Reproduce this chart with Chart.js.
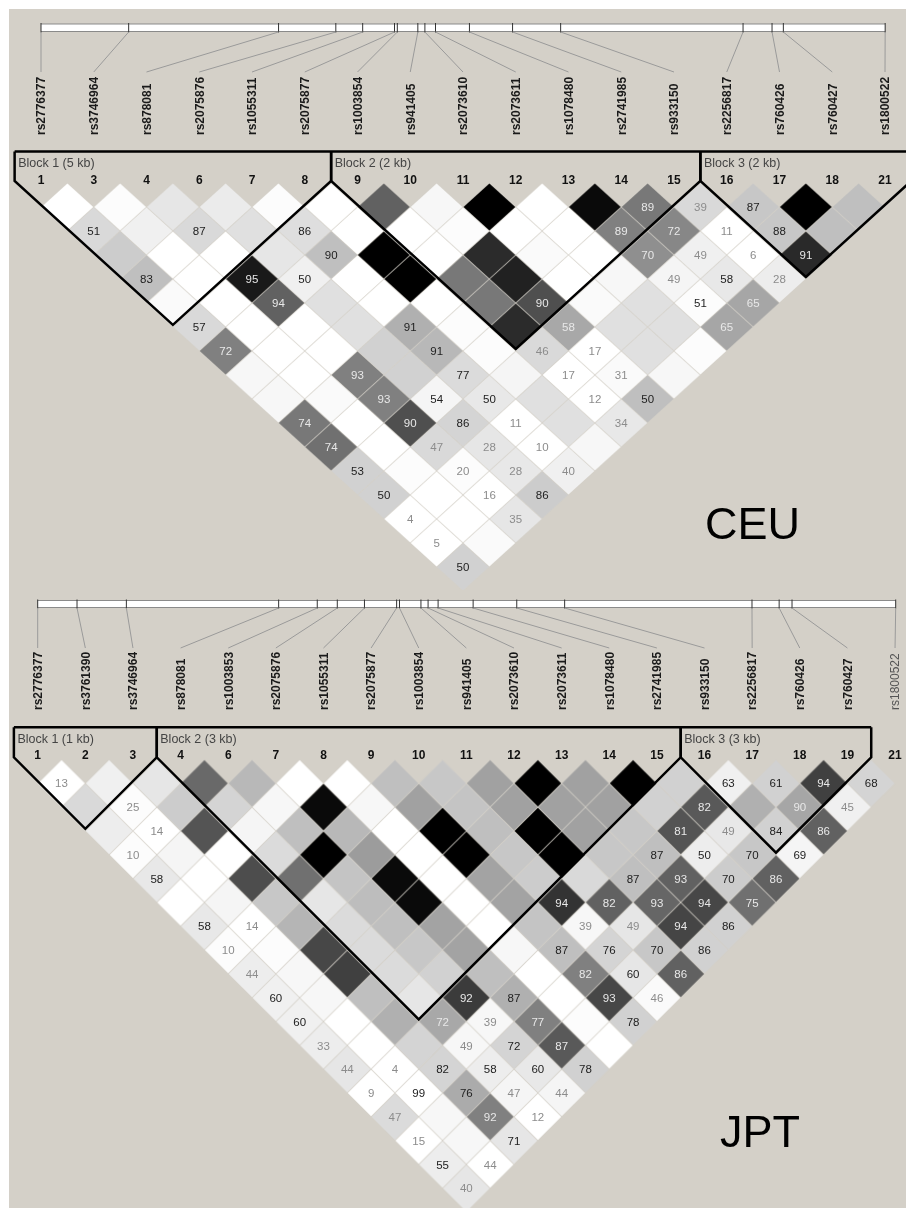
<!DOCTYPE html>
<html>
<head>
<meta charset="utf-8">
<title>LD plots CEU / JPT</title>
<script src="https://cdn.jsdelivr.net/npm/chart.js@4/dist/chart.umd.min.js"></script>
<style>
    html, body { margin: 0; padding: 0; background: #fff; }
    #plate { position: absolute; left: 9px; top: 9px; width: 897px; height: 1199px; background: #d4d0c8; }
    canvas { position: absolute; left: 0; }
    #ceuChart { top: 0; }
    #jptChart { top: 590px; }
</style>
</head>
<body>
<div id="plate"></div>
<canvas id="ceuChart" width="906" height="590"></canvas>
<canvas id="jptChart" width="906" height="618"></canvas>
<script>
// CEU panel
const ceuMarkers = ['rs2776377', 'rs3746964', 'rs878081', 'rs2075876', 'rs1055311', 'rs2075877', 'rs1003854', 'rs941405', 'rs2073610', 'rs2073611', 'rs1078480', 'rs2741985', 'rs933150', 'rs2256817', 'rs760426', 'rs760427', 'rs1800522'];
const ceuNumbers = [1, 3, 4, 6, 7, 8, 9, 10, 11, 12, 13, 14, 15, 16, 17, 18, 21];
const ceuKb = [0, 1.24, 3.36, 4.17, 4.55, 5.0, 5.04, 5.33, 5.43, 5.58, 6.06, 6.67, 7.35, 9.93, 10.34, 10.5, 11.94];
const ceuBlocks = [[0, 5, 'Block 1 (5 kb)'], [6, 12, 'Block 2 (2 kb)'], [13, 16, 'Block 3 (2 kb)']];
// r2 in percent, one list per marker distance
const ceuR2 = [
    [0, 1, 10, 8, 1, 0, 62, 3, 100, 0, 96, 53, 15, 22, 100, 25],
    [15, 6, 15, 12, 13, 0, 0, 1, 0, 0, 50, 47, 0, 22, 25],
    [20, 0, 0, 10, 25, 100, 0, 83, 2, 0, 44, 6, 0, 84],
    [25, 0, 90, 6, 0, 100, 53, 87, 0, 3, 4, 9, 7],
    [2, 0, 62, 12, 0, 0, 53, 69, 2, 12, 1, 35],
    [15, 0, 0, 12, 31, 1, 83, 34, 12, 12, 35],
    [50, 0, 0, 18, 28, 1, 15, 0, 12, 1],
    [3, 0, 50, 18, 14, 4, 0, 2, 3],
    [3, 2, 50, 4, 9, 12, 0, 25],
    [53, 0, 69, 17, 0, 12, 9],
    [56, 0, 15, 10, 0, 3],
    [18, 1, 1, 9, 6],
    [18, 0, 0, 20],
    [0, 0, 10],
    [0, 2],
    [18]
];
// D' in percent, null where the cell shows no number
const ceuDprime = [
    [null, null, null, null, null, null, null, null, null, null, null, 89, 39, 87, null, null],
    [51, null, 87, null, 86, null, null, null, null, null, 89, 72, 11, 88, null],
    [null, null, null, null, 90, null, null, null, null, null, 70, 49, 6, 91],
    [83, null, 95, 50, null, null, null, null, null, null, 49, 58, 28],
    [null, null, 94, null, null, null, null, 90, null, null, 51, 65],
    [57, null, null, null, 91, null, null, 58, null, null, 65],
    [72, null, null, null, 91, null, 46, 17, null, null],
    [null, null, 93, null, 77, null, 17, 31, null],
    [null, null, 93, 54, 50, null, 12, 50],
    [74, null, 90, 86, 11, null, 34],
    [74, null, 47, 28, 10, null],
    [53, null, 20, 28, 40],
    [50, null, 16, 86],
    [4, null, 35],
    [5, null],
    [50]
];

// JPT panel
const jptMarkers = ['rs2776377', 'rs3761390', 'rs3746964', 'rs878081', 'rs1003853', 'rs2075876', 'rs1055311', 'rs2075877', 'rs1003854', 'rs941405', 'rs2073610', 'rs2073611', 'rs1078480', 'rs2741985', 'rs933150', 'rs2256817', 'rs760426', 'rs760427', 'rs1800522'];
const jptNumbers = [1, 2, 3, 4, 6, 7, 8, 9, 10, 11, 12, 13, 14, 15, 16, 17, 18, 19, 21];
const jptKb = [0, 0.55, 1.24, 3.37, 3.91, 4.19, 4.57, 5.02, 5.06, 5.36, 5.46, 5.6, 6.09, 6.7, 7.37, 9.99, 10.37, 10.55, 12.0];
const jptBlocks = [[0, 2, 'Block 1 (1 kb)'], [3, 13, 'Block 2 (3 kb)'], [14, 17, 'Block 3 (3 kb)']];
const jptR2 = [
    [0, 6, 10, 59, 28, 0, 0, 25, 22, 37, 100, 37, 100, 18, 6, 18, 75, 17],
    [15, 1, 20, 17, 3, 96, 3, 37, 23, 37, 37, 37, 18, 65, 31, 35, 6],
    [7, 0, 67, 4, 25, 28, 0, 100, 25, 100, 37, 22, 67, 9, 18, 62],
    [1, 4, 0, 14, 100, 39, 0, 100, 22, 100, 22, 25, 7, 22, 4],
    [9, 0, 70, 56, 23, 96, 0, 36, 20, 15, 25, 62, 20, 62],
    [0, 4, 22, 10, 26, 96, 0, 36, 80, 62, 60, 72, 56],
    [9, 0, 29, 14, 25, 36, 0, 23, 3, 10, 73, 18],
    [1, 1, 72, 14, 22, 36, 3, 25, 17, 22, 18],
    [7, 3, 75, 14, 18, 25, 0, 50, 10, 62],
    [6, 3, 25, 10, 77, 31, 0, 72, 2],
    [6, 0, 31, 34, 3, 50, 1, 18],
    [7, 0, 17, 3, 17, 65, 0],
    [10, 0, 17, 7, 9, 18],
    [0, 0, 33, 4, 4],
    [14, 3, 50, 0],
    [0, 3, 10],
    [7, 0],
    [10]
];
const jptDprime = [
    [13, null, null, null, null, null, null, null, null, null, null, null, null, null, 63, 61, 94, 68],
    [null, 25, null, null, null, null, null, null, null, null, null, null, null, 82, null, 90, 45],
    [null, 14, null, null, null, null, null, null, null, null, null, null, 81, 49, 84, 86],
    [10, null, null, null, null, null, null, null, null, null, null, 87, 50, 70, 69],
    [58, null, null, null, null, null, null, null, null, null, 87, 93, 70, 86],
    [null, null, null, null, null, null, null, null, 94, 82, 93, 94, 75],
    [58, 14, null, null, null, null, null, null, 39, 49, 94, 86],
    [10, null, null, null, null, null, null, 87, 76, 70, 86],
    [44, null, null, null, null, null, null, 82, 60, 86],
    [60, null, null, null, 92, 87, null, 93, 46],
    [60, null, null, 72, 39, 77, null, 78],
    [33, null, null, 49, 72, 87, null],
    [44, 4, 82, 58, 60, 78],
    [9, 99, 76, 47, 44],
    [47, null, 92, 12],
    [15, null, 71],
    [55, 44],
    [40]
];

const FONT = '"Liberation Sans", Arial, sans-serif';
// Chart.js reserves room for line widths and point sizes, so fix the margin and fit the scales to it
const PAD = 10;
// canvas 'middle' baseline sits a bit high for digits
const NUDGE = 1;

// One diamond image per grey level, cached
const sprites = {};
function cellSprite(r2, halfW, halfH) {
    const key = r2 + '_' + halfW;
    if (sprites[key]) return sprites[key];
    const c = document.createElement('canvas');
    c.width = Math.ceil(halfW * 2) + 2;
    c.height = Math.ceil(halfH * 2) + 2;
    const g = c.getContext('2d');
    const grey = Math.round(255 * (1 - r2 / 100));
    g.fillStyle = `rgb(${grey},${grey},${grey})`;
    g.beginPath();
    g.moveTo(c.width / 2, c.height / 2 - halfH + 0.5);
    g.lineTo(c.width / 2 + halfW - 0.5, c.height / 2);
    g.lineTo(c.width / 2, c.height / 2 + halfH - 0.5);
    g.lineTo(c.width / 2 - halfW + 0.5, c.height / 2);
    g.closePath();
    g.fill();
    sprites[key] = c;
    return c;
}

function labelColor(r2, value) {
    if (r2 > 33) return '#e8e8e8';
    return value < 50 ? '#8c8c8c' : '#222';
}

function drawPanel(canvasId, panel) {
    const cells = [];
    panel.r2.forEach((row, d) => {
        row.forEach((v, i) => {
            cells.push({ x: i + (d + 1) / 2, y: d + 1, r2: v, label: panel.dprime[d][i] });
        });
    });

    const rowAt = px => (px - panel.rowZero) / panel.rowStep;
    const lift = 0.09;
    const topRow = rowAt(panel.blockTop);
    const last = panel.blocks[panel.blocks.length - 1][1];

    const datasets = [];
    // top edge of the blocks
    datasets.push({
        data: [{ x: -0.5, y: topRow }, { x: last + 0.5, y: topRow }],
        showLine: true, pointRadius: 0, borderColor: '#000', borderWidth: 2.5, clip: false
    });
    panel.blocks.forEach(b => {
        const a = b[0], z = b[1];
        datasets.push({
            data: [
                { x: a - 0.5, y: topRow },
                { x: a - 0.5, y: -lift },
                { x: (a + z) / 2, y: z - a + 1 - lift },
                { x: z + 0.5, y: -lift },
                { x: z + 0.5, y: topRow }
            ],
            showLine: true, pointRadius: 0, borderColor: '#000', borderWidth: 2.5, clip: false
        });
    });
    // map ticks on the physical track
    const trackRow = rowAt((panel.trackTop + panel.trackBottom) / 2);
    datasets.push({
        xAxisID: 'map',
        data: panel.kb.map(k => ({ x: k, y: trackRow })),
        pointStyle: 'line', rotation: 90, radius: (panel.trackBottom - panel.trackTop) / 2 + 0.5,
        borderColor: '#333', borderWidth: 1, clip: false
    });
    const kbEnd = panel.kb[panel.kb.length - 1];
    datasets.push({
        xAxisID: 'map',
        data: [{ x: 0, y: trackRow }, { x: kbEnd, y: trackRow }],
        showLine: true, pointRadius: 0, borderColor: '#fff', clip: false,
        borderWidth: panel.trackBottom - panel.trackTop - 2
    });
    datasets.push({
        xAxisID: 'map',
        data: [{ x: 0, y: trackRow }, { x: kbEnd, y: trackRow }],
        showLine: true, pointRadius: 0, borderColor: '#8a8a8a', clip: false,
        borderWidth: panel.trackBottom - panel.trackTop
    });
    // LD cells
    datasets.push({
        data: cells,
        radius: 1,
        clip: false,
        pointStyle: ctx => cellSprite(ctx.raw.r2, panel.colStep / 2, panel.rowStep)
    });

    const textPlugin = {
        id: 'ldText',
        afterDatasetsDraw(chart) {
            const ctx = chart.ctx;
            const sx = chart.scales.x, sy = chart.scales.y, sm = chart.scales.map;
            ctx.save();

            // connectors from the track down to the marker names
            ctx.strokeStyle = '#9a9a9a';
            ctx.lineWidth = 1;
            panel.kb.forEach((k, i) => {
                ctx.beginPath();
                ctx.moveTo(sm.getPixelForValue(k), panel.trackBottom);
                ctx.lineTo(sx.getPixelForValue(i), panel.linkEnd);
                ctx.stroke();
            });

            // marker names
            ctx.textAlign = 'left';
            ctx.textBaseline = 'middle';
            panel.markers.forEach((name, i) => {
                const faded = panel.faded.includes(name);
                ctx.save();
                ctx.translate(sx.getPixelForValue(i), panel.nameBottom);
                ctx.rotate(-Math.PI / 2);
                ctx.font = (faded ? '' : 'bold ') + '12px ' + FONT;
                ctx.fillStyle = faded ? '#555' : '#1a1a1a';
                ctx.fillText(name, 0, NUDGE);
                ctx.restore();
            });

            // column numbers
            ctx.textAlign = 'center';
            ctx.font = 'bold 12px ' + FONT;
            ctx.fillStyle = '#111';
            panel.numbers.forEach((n, i) => {
                ctx.fillText(n, sx.getPixelForValue(i), panel.numberY + NUDGE);
            });

            // block captions
            ctx.textAlign = 'left';
            ctx.font = '12.5px ' + FONT;
            ctx.fillStyle = '#444';
            panel.blocks.forEach(b => {
                ctx.fillText(b[2], sx.getPixelForValue(b[0] - 0.5) + 3.5, panel.captionY + NUDGE);
            });

            // D' numbers in the cells
            ctx.textAlign = 'center';
            ctx.font = '11.5px ' + FONT;
            cells.forEach(c => {
                if (c.label === null) return;
                ctx.fillStyle = labelColor(c.r2, c.label);
                ctx.fillText(c.label, sx.getPixelForValue(c.x), sy.getPixelForValue(c.y) + NUDGE);
            });

            // population name
            ctx.textAlign = 'left';
            ctx.textBaseline = 'alphabetic';
            ctx.font = panel.titleSize + 'px ' + FONT;
            ctx.fillStyle = '#000';
            ctx.fillText(panel.title, panel.titleX, panel.titleY);
            ctx.restore();
        }
    };

    const canvas = document.getElementById(canvasId);
    return new Chart(canvas.getContext('2d'), {
        type: 'scatter',
        data: { datasets: datasets },
        plugins: [textPlugin],
        options: {
            responsive: false,
            animation: false,
            devicePixelRatio: 1,
            layout: { padding: PAD },
            plugins: { legend: { display: false }, tooltip: { enabled: false } },
            scales: {
                x: {
                    type: 'linear', display: false,
                    min: (PAD - panel.colZero) / panel.colStep,
                    max: (canvas.width - PAD - panel.colZero) / panel.colStep
                },
                map: {
                    type: 'linear', display: false, axis: 'x',
                    min: (PAD - panel.mapZero) / panel.mapStep,
                    max: (canvas.width - PAD - panel.mapZero) / panel.mapStep
                },
                y: {
                    type: 'linear', display: false, reverse: true,
                    min: rowAt(PAD),
                    max: rowAt(canvas.height - PAD)
                }
            }
        }
    });
}

document.addEventListener('DOMContentLoaded', function() {
    drawPanel('ceuChart', {
        markers: ceuMarkers, numbers: ceuNumbers, kb: ceuKb, blocks: ceuBlocks, r2: ceuR2, dprime: ceuDprime,
        faded: [],
        colZero: 41, colStep: 52.75, rowZero: 183, rowStep: 24, mapZero: 41, mapStep: 70.7,
        trackTop: 23.5, trackBottom: 32, linkEnd: 72, nameBottom: 135,
        blockTop: 151.5, numberY: 179.3, captionY: 162.7,
        title: 'CEU', titleSize: 45, titleX: 705, titleY: 539
    });
    drawPanel('jptChart', {
        markers: jptMarkers, numbers: jptNumbers, kb: jptKb, blocks: jptBlocks, r2: jptR2, dprime: jptDprime,
        faded: ['rs1800522'],
        colZero: 37.7, colStep: 47.63, rowZero: 169.5, rowStep: 23.82, mapZero: 37.7, mapStep: 71.5,
        trackTop: 10, trackBottom: 18, linkEnd: 58, nameBottom: 120,
        blockTop: 137.3, numberY: 164.3, captionY: 149,
        title: 'JPT', titleSize: 45, titleX: 720, titleY: 557
    });
});
</script>
</body>
</html>
